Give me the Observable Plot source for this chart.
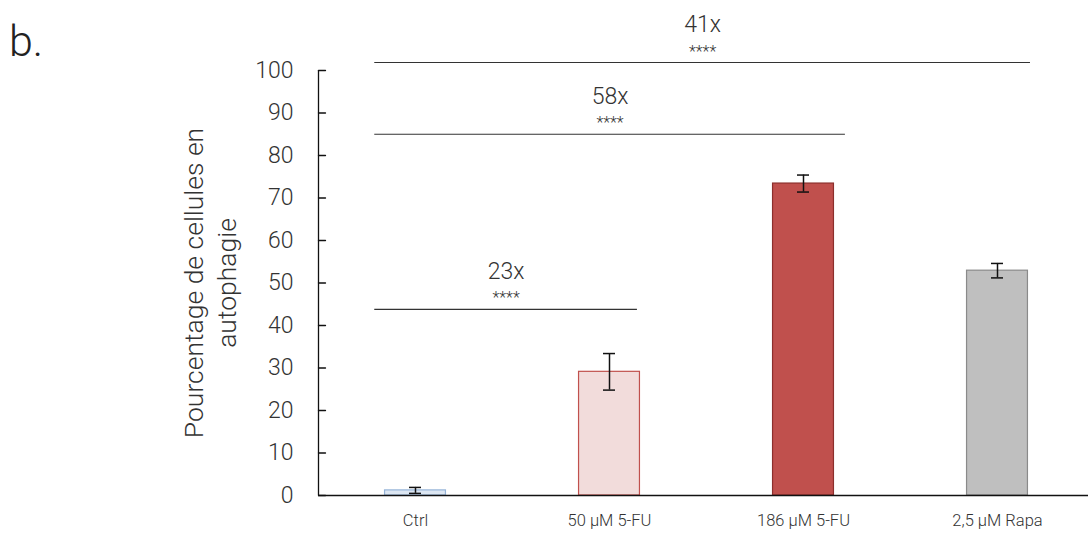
<!DOCTYPE html>
<html>
<head>
<meta charset="utf-8">
<script src="https://cdn.jsdelivr.net/npm/d3@7"></script>
<script src="https://cdn.jsdelivr.net/npm/@observablehq/plot@0.6"></script>
<style>
  html, body { margin: 0; padding: 0; background: #fff; }
  #wrap { position: relative; width: 1088px; height: 536px; font-family: Roboto, "Liberation Sans", sans-serif; }
  #panel { position: absolute; left: 9px; top: 20px; font-size: 43px; font-weight: 300; color: #222; line-height: 1; }
  svg { font-family: Roboto, "Liberation Sans", sans-serif; font-weight: 300; }
</style>
</head>
<body>
<div id="wrap"><div id="panel">b.</div></div>
<script>
const categories = ["Ctrl", "50 µM 5-FU", "186 µM 5-FU", "2,5 µM Rapa"];
const means = [1.2, 29.1, 73.4, 52.9];
const errors = [0.7, 4.3, 2.0, 1.7];

const yTicks = [0, 10, 20, 30, 40, 50, 60, 70, 80, 90, 100];

const bracketFrom = [-0.21, -0.21, -0.21];
const bracketTo = [1.144, 2.216, 3.17];
const bracketY = [43.8, 85.0, 101.9];
const bracketLabels = ["23x", "58x", "41x"];
const bracketStars = ["****", "****", "****"];

const fills = ["#dce6f2", "#f2dcdb", "#c0504d", "#bfbfbf"];
const strokes = ["#95b3d7", "#c0504d", "#8c2f2c", "#8a8a8a"];

const data = categories.map((c, i) => ({i, c, v: means[i], e: errors[i]}));
const brackets = bracketLabels.map((l, k) => ({x1: bracketFrom[k], x2: bracketTo[k], y: bracketY[k], label: l, stars: bracketStars[k], xm: (bracketFrom[k] + bracketTo[k]) / 2}));

const halfBar = 0.157;
const halfCap = 0.031;

const tickShape = { draw(context, l) { context.moveTo(0, 0); context.lineTo(0, -l); } };

const chart = Plot.plot({
  width: 1088,
  height: 536,
  marginLeft: 318,
  marginRight: 0,
  marginTop: 70,
  marginBottom: 41,
  x: {domain: [-0.5, 3.5], range: [318, 1094]},
  y: {domain: [0, 100], range: [495, 70]},
  style: {fontFamily: "Roboto, 'Liberation Sans', sans-serif", fontWeight: 300, overflow: "visible"},
  marks: [
    Plot.rectY(data, {x1: d => d.i - halfBar, x2: d => d.i + halfBar, y1: 0, y2: "v", fill: d => fills[d.i], stroke: d => strokes[d.i], strokeWidth: 1.2}),
    Plot.ruleX(data, {x: "i", y1: d => d.v - d.e, y2: d => d.v + d.e, stroke: "#111", strokeWidth: 1.5}),
    Plot.ruleY(data, {y: d => d.v + d.e, x1: d => d.i - halfCap, x2: d => d.i + halfCap, stroke: "#111", strokeWidth: 1.5}),
    Plot.ruleY(data, {y: d => d.v - d.e, x1: d => d.i - halfCap, x2: d => d.i + halfCap, stroke: "#111", strokeWidth: 1.5}),
    // axes lines
    Plot.ruleX([-0.5], {y1: 0, y2: 100, stroke: "#111", strokeWidth: 1.3}),
    Plot.ruleY([0], {x1: -0.5, x2: 3.5, stroke: "#111", strokeWidth: 1.3}),
    // inward y ticks
    Plot.vector(yTicks, {x: -0.5, y: d => d, rotate: 90, length: 7, anchor: "start", shape: tickShape, stroke: "#111", strokeWidth: 1.3}),
    Plot.axisY({ticks: yTicks, tickSize: 0, tickPadding: 25, fontSize: 23, fill: "#333", label: null}),
    Plot.axisX({ticks: [0, 1, 2, 3], tickFormat: i => categories[i], tickSize: 0, tickPadding: 19, fontSize: 16.5, fill: "#333", label: null}),
    // y label
    Plot.text(["Pourcentage de cellules en\nautophagie"], {frameAnchor: "left", dx: -110, rotate: -90, fontSize: 26.5, lineHeight: 1.25, fill: "#333", textAnchor: "middle"}),
    // brackets
    Plot.ruleY(brackets, {y: "y", x1: "x1", x2: "x2", stroke: "#333", strokeWidth: 1.1}),
    Plot.text(brackets, {x: "xm", y: "y", text: "label", dy: -38, fontSize: 23, fill: "#333"}),
    Plot.text(brackets, {x: "xm", y: "y", text: "stars", dy: -11, fontSize: 16, fill: "#333"})
  ]
});
chart.style.position = "absolute";
chart.style.left = "0px";
chart.style.top = "0px";
document.getElementById("wrap").appendChild(chart);
</script>
</body>
</html>
